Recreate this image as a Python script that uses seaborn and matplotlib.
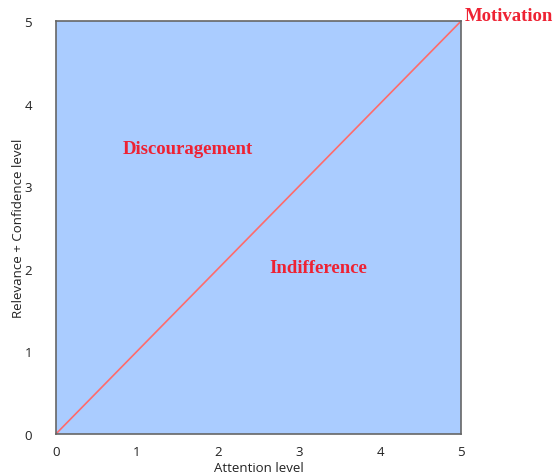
import matplotlib
matplotlib.use('Agg')
import matplotlib.pyplot as plt
import seaborn as sns
import pandas as pd

sns.set_style('white')
plt.rcParams['font.family'] = ['Open Sans', 'DejaVu Sans']

# diagonal line data
attention = [0, 5]
relevance = [0, 5]
ticks = [0, 1, 2, 3, 4, 5]

# region labels: (text, x, y)
labels = ['Motivation', 'Discouragement', 'Indifference']
label_x = [5.04, 0.83, 2.63]
label_y = [5.06, 3.46, 2.02]

fig = plt.figure(figsize=(5.53, 4.77), dpi=100)
ax = fig.add_axes([0.101, 0.088, 0.733, 0.866])
ax.set_facecolor('#aaccff')

df = pd.DataFrame({'Attention level': attention, 'Relevance + Confidence level': relevance})
sns.lineplot(data=df, x='Attention level', y='Relevance + Confidence level',
             color='#ff6b6b', linewidth=1.2, ax=ax)

ax.set_xlim(0, 5)
ax.set_ylim(0, 5)
ax.set_xticks(ticks)
ax.set_yticks(ticks)
ax.tick_params(length=0, labelsize=9.5, pad=8, labelcolor='#222222')
ax.tick_params(axis='y', pad=17)
ax.set_xlabel('Attention level', fontsize=9.5, color='#222222', labelpad=2)
ax.set_ylabel('Relevance + Confidence level', fontsize=9.5, color='#222222', labelpad=0)

for s in ax.spines.values():
    s.set_color('#666666')
    s.set_linewidth(1.2)

for t, x, y in zip(labels, label_x, label_y):
    ax.text(x, y, t, color='#ee2233', fontsize=13.5, fontweight='bold',
            family='Liberation Serif', ha='left', va='center', clip_on=False)

fig.savefig('out.png', dpi=100)
